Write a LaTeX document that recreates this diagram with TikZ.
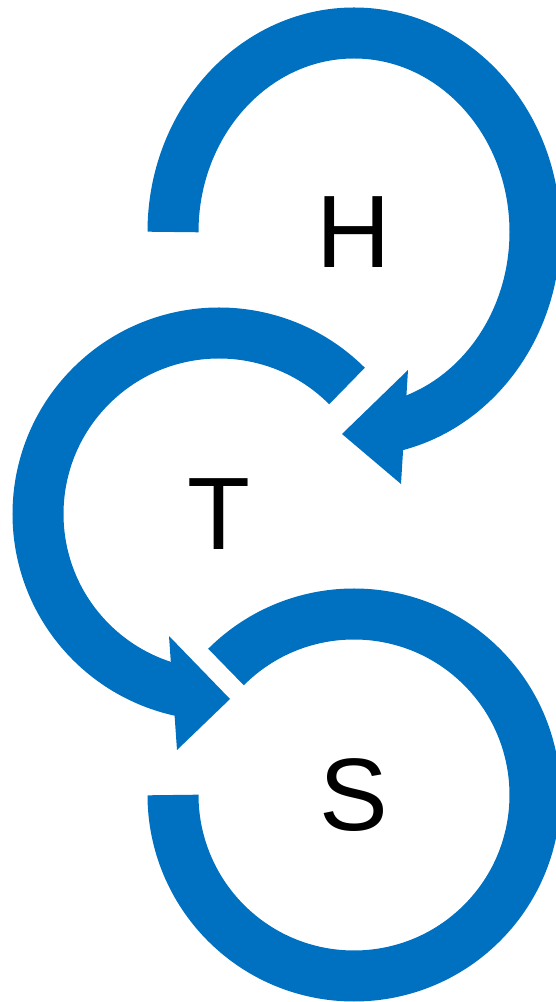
\documentclass[tikz,border=0pt]{standalone}
\usepackage{fontspec}
\setmainfont{Liberation Sans}
\definecolor{cycleblue}{RGB}{0,112,192}

\begin{document}
\begin{tikzpicture}[
    x=1pt,
    y=1pt,
    letter/.style={
        font=\fontsize{103}{103}\selectfont,
        inner sep=0pt
    },
    ring/.style={draw=cycleblue, line width=51pt},
    head/.style={fill=cycleblue}
]
\useasboundingbox (0,0) rectangle (556,1002);

% ============================================================
% LITERY
% ============================================================
\node[letter] (h) at (354,770) {H};
\node[letter] (t) at (219,488) {T};
\node[letter] (s) at (354,207) {S};

% ============================================================
% PIERŚCIEŃ H -> T
% ============================================================
\draw[ring] ([shift={(180:181 and 199)}]h.center)
    arc[start angle=180, end angle=-80, x radius=181, y radius=199];
\fill[head] ([shift={(54,-138)}]h.center) -- ([shift={(-12,-202)}]h.center)
    -- ([shift={(47,-252)}]h.center) -- cycle;

% ============================================================
% PIERŚCIEŃ T -> S
% ============================================================
\draw[ring] ([shift={(45:181)}]t.center)
    arc[start angle=45, end angle=262, radius=181];
\fill[head] ([shift={(-50,-122)}]t.center) -- ([shift={(11,-185)}]t.center)
    -- ([shift={(-42,-236)}]t.center) -- cycle;

% ============================================================
% PIERŚCIEŃ S
% ============================================================
\draw[ring] ([shift={(135:181)}]s.center)
    arc[start angle=135, end angle=-180, radius=181];

\end{tikzpicture}
\end{document}
